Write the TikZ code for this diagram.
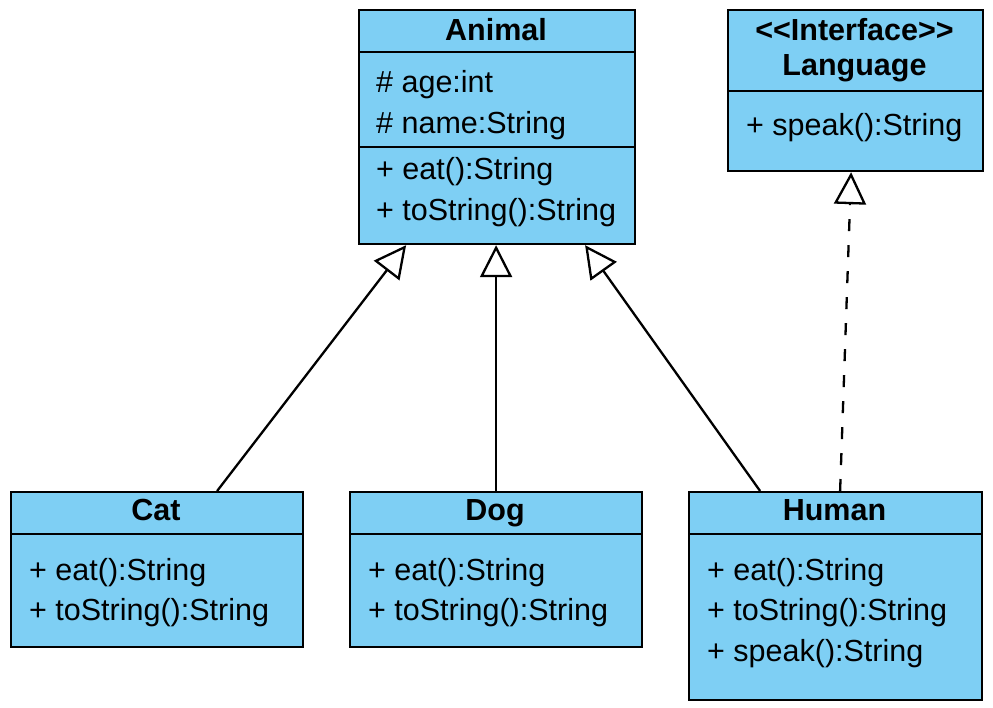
\documentclass[tikz,border=0pt]{standalone}
\usepackage{fontspec}
\setmainfont{Liberation Sans}
\usetikzlibrary{arrows.meta,calc}
\definecolor{umlfill}{RGB}{126,207,244}
\tikzset{
  umlbox/.style={draw=black, line width=2.2pt, fill=umlfill, inner sep=0pt, anchor=north west},
  divider/.style={line width=2.2pt},
  title/.style={font=\fontsize{30.5}{41}\bfseries\selectfont, anchor=base, inner sep=0pt},
  member/.style={font=\fontsize{30.5}{41}\selectfont, anchor=base west, inner sep=0pt},
  inherit/.style={line width=2.3pt, -{Triangle[open, length=32pt, width=32pt, fill=white, line width=2.3pt]}},
  realize/.style={inherit, dash pattern=on 12pt off 14pt},
}
\begin{document}
\begin{tikzpicture}[x=1pt,y=-1pt]
\useasboundingbox (0,0) rectangle (993,707);
% boxes
\node[umlbox, minimum width=276pt, minimum height=234pt] (animal) at (358,9) {};
\node[umlbox, minimum width=255pt, minimum height=161pt] (language) at (727,9) {};
\node[umlbox, minimum width=292pt, minimum height=155pt] (cat) at (10,491) {};
\node[umlbox, minimum width=292pt, minimum height=155pt] (dog) at (349,491) {};
\node[umlbox, minimum width=293pt, minimum height=208pt] (human) at (688,491) {};
% dividers
\draw[divider] (358,52) -- (634,52);
\draw[divider] (358,147) -- (634,147);
\draw[divider] (727,91) -- (982,91);
\draw[divider] (10,534) -- (302,534);
\draw[divider] (349,534) -- (641,534);
\draw[divider] (688,534) -- (981,534);
% Animal
\node[title] (animalT) at (496,40) {Animal};
\node[member] (a1) at (376,92) {\# age:int};
\node[member] (a2) at (376,133) {\# name:String};
\node[member] (a3) at (376,179) {+ eat():String};
\node[member] (a4) at (376,220) {+ toString():String};
% Language
\node[title] (langT1) at (854.5,40) {<{}<Interface>{}>};
\node[title] (langT2) at (854.5,75) {Language};
\node[member] (l1) at (746,135) {+ speak():String};
% Cat
\node[title] (catT) at (156,520) {Cat};
\node[member] (c1) at (29,580) {+ eat():String};
\node[member] (c2) at (29,620) {+ toString():String};
% Dog
\node[title] (dogT) at (495,520) {Dog};
\node[member] (d1) at (368,580) {+ eat():String};
\node[member] (d2) at (368,620) {+ toString():String};
% Human
\node[title] (humanT) at (834.5,520) {Human};
\node[member] (h1) at (707,580) {+ eat():String};
\node[member] (h2) at (707,620) {+ toString():String};
\node[member] (h3) at (707,661) {+ speak():String};
% connectors
\draw[inherit] ([xshift=60pt]cat.north) -- ([xshift=-91pt]animal.south);
\draw[inherit] (dog.north) -- (dog.north |- animal.south);
\draw[inherit] ([xshift=-75.5pt]human.north) -- ([xshift=88pt]animal.south);
\draw[realize] ([xshift=4.5pt]human.north) -- ([xshift=-4.5pt]language.south);
\end{tikzpicture}
\end{document}
